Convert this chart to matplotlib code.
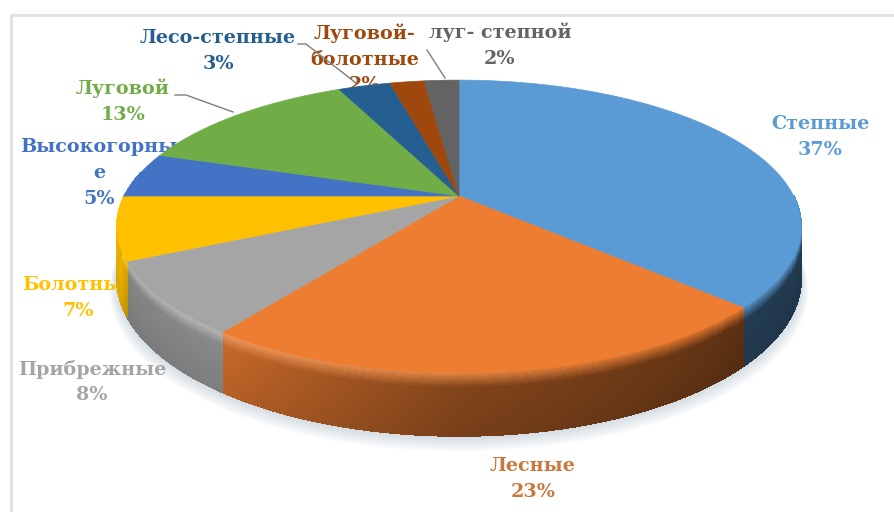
import numpy as np
import matplotlib
matplotlib.use('Agg')
import matplotlib.pyplot as plt
from matplotlib.collections import PolyCollection
from matplotlib.colors import to_rgb
from matplotlib.patches import Polygon

names = ['Степные', 'Лесные', 'Прибрежные', 'Болотные', 'Высокогорны\nе',
         'Луговой', 'Лесо-степные', 'Луговой-\nболотные', 'луг- степной']
values = [37, 23, 8, 7, 5, 13, 3, 2, 2]
colors = ['#5b9bd5', '#ed7d31', '#a5a5a5', '#ffc000', '#4472c4',
          '#70ad47', '#255e91', '#9e480e', '#636363']
text_colors = ['#5b9bd5', '#c9773c', '#a5a5a5', '#ffc000', '#4472c4',
               '#70ad47', '#255e91', '#9e480e', '#636363']

# label centres in pixels
label_pos = [(820, 137), (533, 479), (92, 382), (78, 298), (99, 173),
             (123, 101), (218, 51), (365, 59), (500, 45)]
leaders = [((298, 44), (306, 44), (356, 83)),
           ((175, 95), (186, 95), (233, 112)),
           ((427, 50), (445, 78))]

# pie geometry
CX, CY = 459, 196
A, B = 334.6, 140
K = 0.208
DEPTH = 50


def project(theta, drop=0.0, r=1.0):
    # theta in degrees, clockwise from the top, with simple perspective
    t = np.radians(theta)
    u, v = r * np.sin(t), r * np.cos(t)
    w = 1 + K * v
    return CX + A * u / w, CY - B * v / w + drop * DEPTH / w


def wall_color(base, theta, t):
    shade = np.interp(theta, [90, 135, 180, 215, 244, 250, 270],
                      [0.36, 0.40, 0.56, 0.85, 0.82, 0.95, 1.0])
    left = np.clip((theta - 150) / 70, 0, 1)
    base = np.array(base)
    wall = base * shade * (1 - 0.1 * t)
    rim = base * (1 - left) * 0.95 + left * (base * 0.75 + 0.25)
    m = max(0.0, 1 - t / 0.24)
    return tuple(np.clip(wall * (1 - m) + rim * m, 0, 1))


fig = plt.figure(figsize=(8.95, 5.12), dpi=100)
ax = fig.add_axes([0, 0, 1, 1])
ax.set_xlim(0, 895)
ax.set_ylim(512, 0)
ax.axis('off')

# chart frame, only the top and left sides show
ax.plot([11.5, 11.5, 895], [512, 14.5, 14.5], color='#e0e0e0', lw=2.0, zorder=1)

# soft shadow under the pie
circle = np.linspace(0, 360, 361)
for k in range(9):
    sx, sy = project(circle, drop=1.0, r=1.0 + 0.0025 * k)
    ax.add_patch(Polygon(np.c_[sx, sy + 1.3 * k], fc='#7f99ad', ec='none',
                         alpha=0.045, zorder=2))

# data labels go under the pie, which covers some of them
for name, val, col, (lx, ly) in zip(names, values, text_colors, label_pos):
    ax.text(lx, ly, f'{name}\n{val}%', color=col, ha='center', va='center',
            family='DejaVu Serif', fontweight='bold', fontsize=13.8,
            linespacing=1.55, zorder=3)
for pts in leaders:
    xs, ys = zip(*pts)
    ax.plot(xs, ys, color='#7f7f7f', lw=1.0, zorder=3)

edges = np.cumsum([0] + values) * 3.6

# side wall, split in small shaded cells
cells, cell_colors = [], []
rows = np.linspace(0, 1, 31)
for i, col in enumerate(colors):
    base = to_rgb(col)
    start, stop = edges[i], edges[i + 1]
    if stop < 90 or start > 280:
        continue
    steps = np.arange(max(start, 90), min(stop, 280), 0.5)
    steps = np.append(steps, min(stop, 280))
    for a0, a1 in zip(steps[:-1], steps[1:]):
        for t0, t1 in zip(rows[:-1], rows[1:]):
            x00, y00 = project(a0, t0)
            x10, y10 = project(a1, t0)
            x11, y11 = project(a1, t1)
            x01, y01 = project(a0, t1)
            cells.append([(x00, y00), (x10, y10), (x11, y11), (x01, y01)])
            cell_colors.append(wall_color(base, (a0 + a1) / 2, (t0 + t1) / 2))
ax.add_collection(PolyCollection(cells, facecolors=cell_colors, edgecolors=cell_colors,
                                 linewidths=0.6, antialiaseds=False, zorder=4))

# top face
for i, col in enumerate(colors):
    arc = np.linspace(edges[i], edges[i + 1], max(2, values[i] * 4))
    x, y = project(arc)
    pts = np.vstack([[CX, CY], np.c_[x, y]])
    ax.add_patch(Polygon(pts, fc=col, ec=col, lw=0.5, zorder=5))

plt.savefig('out.png', dpi=100)
